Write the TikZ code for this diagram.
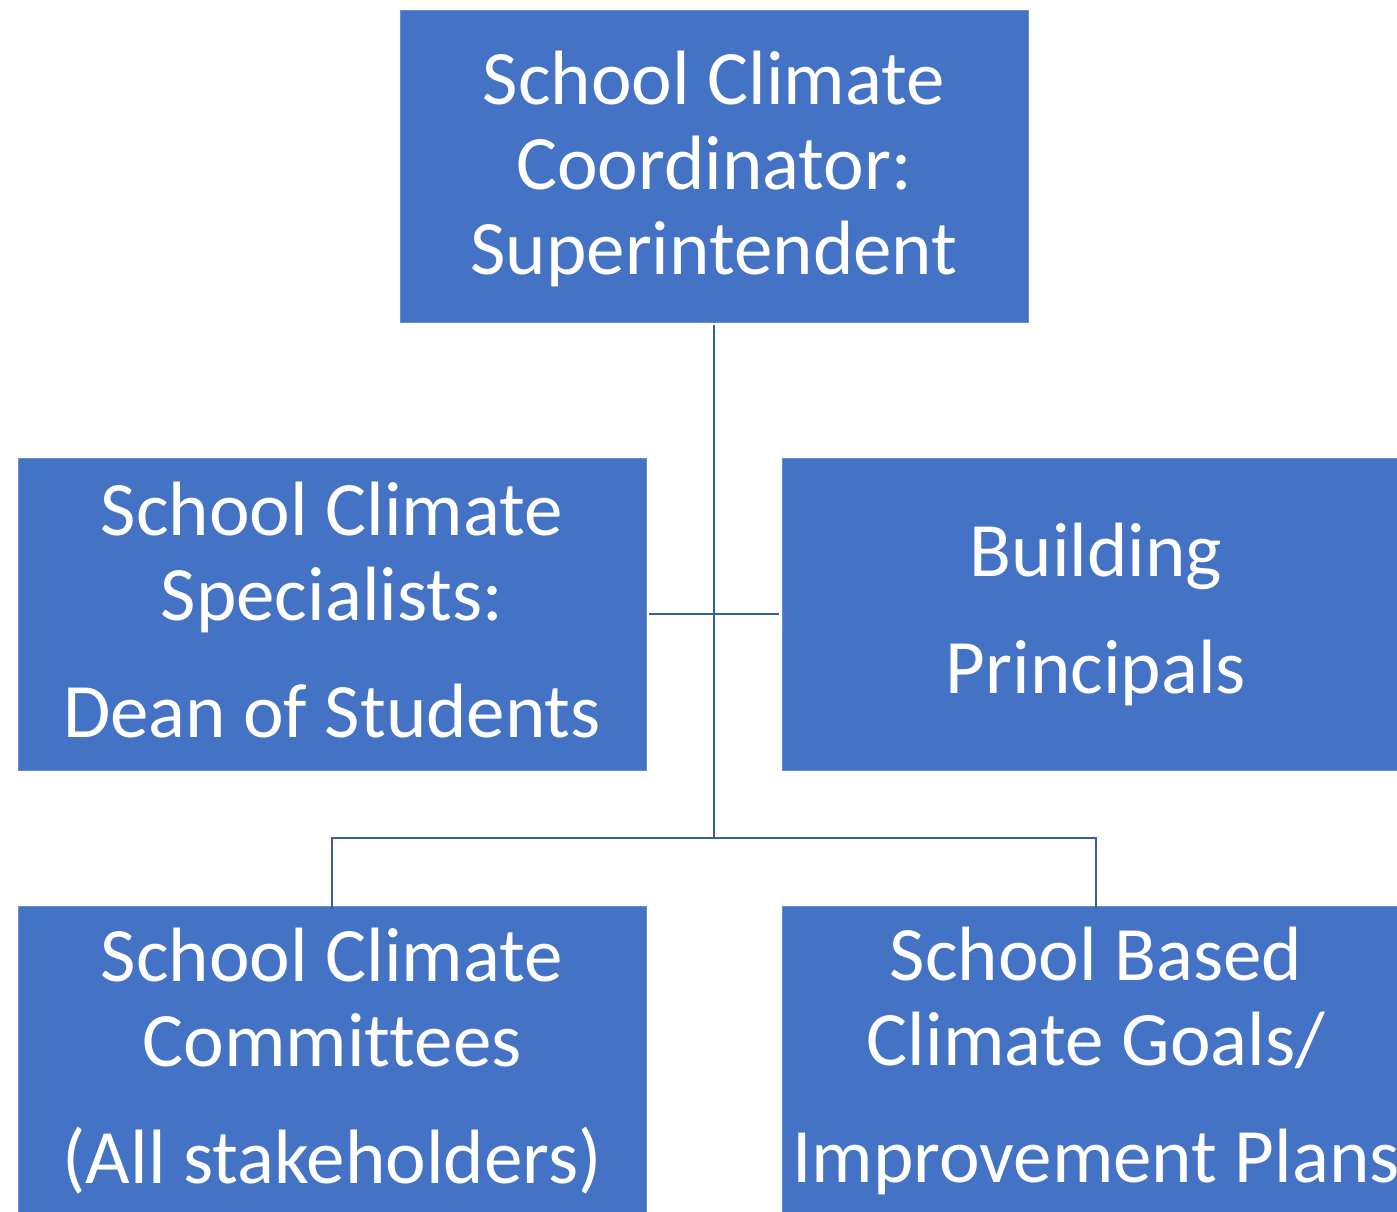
\documentclass[tikz,border=0pt]{standalone}
\usepackage{fontspec}
\setmainfont{Carlito}[Ligatures=NoCommon]
\definecolor{boxblue}{HTML}{4472C4}
\definecolor{linkblue}{HTML}{3B5DA3}
\tikzset{
  orgtext/.style={text=white, align=center, inner sep=0pt, font=\fontsize{77}{85}\selectfont},
  orgbox/.style={fill=boxblue, draw=boxblue!80!white, line width=0.8pt, inner sep=0pt,
    minimum width=628pt, minimum height=312pt},
  link/.style={draw=linkblue, line width=2.8pt}
}
\begin{document}
\begin{tikzpicture}[x=1pt,y=-1pt]
\useasboundingbox (0,0) rectangle (1397,1212);
\fill[white] (0,0) rectangle (1397,1212);
\node[orgbox, label={[orgtext,yshift=-3pt]center:{School Climate\\Coordinator:\\Superintendent}}] (coord) at (714,166) {};
\node[orgbox, label={[orgtext,yshift=4pt]center:{School Climate\\Specialists:\\[32pt]Dean of Students}}] (spec) at (332,614) {};
\node[orgbox, label={[orgtext]center:{Building\\[32pt]Principals}}] (princ) at (1096,614) {};
\node[orgbox, label={[orgtext,yshift=1pt]center:{School Climate\\Committees\\[32pt](All stakeholders)}}] (comm) at (332,1062) {};
\node[orgbox, label={[orgtext,yshift=1pt]center:{School Based\\Climate Goals/\\[32pt]Improvement Plans}}] (goals) at (1096,1062) {};
\coordinate (j) at (714,838);
\draw[link] ([yshift=-3pt]coord.south) -- (j);
\draw[link] ([xshift=3pt]spec.east) -- ([xshift=-3pt]princ.west);
\draw[link] ([yshift=-3pt]comm.north) |- (j) -| ([yshift=-3pt]goals.north);
\end{tikzpicture}
\end{document}
